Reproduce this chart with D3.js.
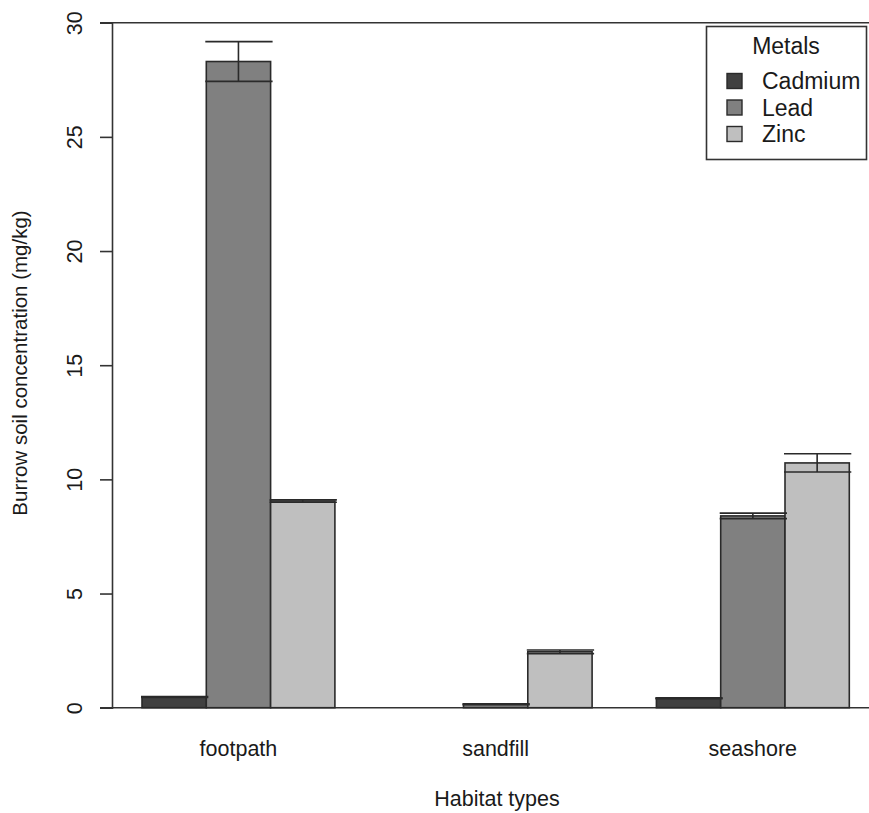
<!DOCTYPE html>
<html><head><meta charset="utf-8">
<script src="https://cdn.jsdelivr.net/npm/d3@7"></script>
<style>body{margin:0;background:#fff}svg{display:block}text{font-family:"Liberation Sans",Arial,sans-serif;fill:#1a1a1a}</style>
</head><body><svg id="c" width="869" height="813"></svg>
<script>
const habitats = ["footpath", "sandfill", "seashore"];
const metals = ["Cadmium", "Lead", "Zinc"];
const colors = ["#404040", "#808080", "#bfbfbf"];
const cadmium = [0.47, 0.0, 0.41];
const lead = [28.3, 0.15, 8.4];
const zinc = [9.05, 2.45, 10.72];
const cadmiumErr = [0.02, 0.0, 0.02];
const leadErr = [0.87, 0.02, 0.12];
const zincErr = [0.05, 0.08, 0.4];
const yTicks = [0, 5, 10, 15, 20, 25, 30];

const values = [cadmium, lead, zinc];
const errs = [cadmiumErr, leadErr, zincErr];
const data = [];
habitats.forEach((h, i) => metals.forEach((m, j) => data.push({h, m, j, v: values[j][i], e: errs[j][i]})));

const svg = d3.select("#c");
const y = d3.scaleLinear().domain([0, 30]).range([707.7, 22.7]);
const x0 = d3.scaleBand().domain(habitats).range([142, 849.3]).paddingInner(0.25).paddingOuter(0);
const x1 = d3.scaleBand().domain(metals).range([0, x0.bandwidth()]).padding(0);
const col = d3.scaleOrdinal().domain(metals).range(colors);

// top and base lines
svg.append("line").attr("x1", 100).attr("x2", 869).attr("y1", y(30)).attr("y2", y(30)).attr("stroke", "#333").attr("stroke-width", 1.6);
svg.append("line").attr("x1", 100).attr("x2", 869).attr("y1", y(0)).attr("y2", y(0)).attr("stroke", "#333").attr("stroke-width", 1.6);

// y axis
const ax = svg.append("g").attr("transform", "translate(112,0)")
  .call(d3.axisLeft(y).tickValues(yTicks).tickSize(12).tickPadding(18).tickFormat(d3.format("d")));
ax.select(".domain").attr("stroke", "#333").attr("stroke-width", 1.6);
ax.selectAll(".tick line").attr("stroke", "#333").attr("stroke-width", 1.6);
ax.selectAll(".tick text").attr("transform", "rotate(-90)").attr("x", 0).attr("y", -30).attr("dy", 0)
  .attr("text-anchor", "middle").style("font-size", "21.5px").style("fill", "#1a1a1a");

// bars
const bw = x1.bandwidth();
svg.append("g").selectAll("rect").data(data.filter(d => d.v > 0)).join("rect")
  .attr("x", d => x0(d.h) + x1(d.m)).attr("width", bw)
  .attr("y", d => y(d.v)).attr("height", d => y(0) - y(d.v))
  .attr("fill", d => col(d.m)).attr("stroke", "#2a2a2a").attr("stroke-width", 1.6);

// error bars
const eg = svg.append("g").attr("stroke", "#2a2a2a").attr("stroke-width", 1.6);
data.filter(d => d.v > 0).forEach(d => {
  const cx = x0(d.h) + x1(d.m) + bw / 2;
  const l = x0(d.h) + x1(d.m) - 1, r = x0(d.h) + x1(d.m) + bw + 2;
  eg.append("line").attr("x1", cx).attr("x2", cx).attr("y1", y(d.v - d.e)).attr("y2", y(d.v + d.e));
  eg.append("line").attr("x1", l).attr("x2", r).attr("y1", y(d.v + d.e)).attr("y2", y(d.v + d.e));
  eg.append("line").attr("x1", l).attr("x2", r).attr("y1", y(d.v - d.e)).attr("y2", y(d.v - d.e));
});

// x labels
svg.append("g").selectAll("text").data(habitats).join("text")
  .attr("x", d => x0(d) + x0.bandwidth() / 2).attr("y", 756).attr("text-anchor", "middle")
  .style("font-size", "21.5px").text(d => d);

svg.append("text").attr("x", 497).attr("y", 806).attr("text-anchor", "middle").style("font-size", "21.5px").text("Habitat types");
svg.append("text").attr("transform", "translate(27,363) rotate(-90)").attr("text-anchor", "middle").style("font-size", "20.5px").text("Burrow soil concentration (mg/kg)");

// legend
const lg = svg.append("g");
lg.append("rect").attr("x", 706.5).attr("y", 26.5).attr("width", 160).attr("height", 133).attr("fill", "#fff").attr("stroke", "#333").attr("stroke-width", 1.6);
lg.append("text").attr("x", 786).attr("y", 54).attr("text-anchor", "middle").style("font-size", "23px").text("Metals");
const li = lg.selectAll("g.it").data(metals).join("g").attr("class", "it")
  .attr("transform", (d, i) => `translate(0,${81 + i * 26.5})`);
li.append("rect").attr("x", 727).attr("y", -7.5).attr("width", 15).attr("height", 15).attr("fill", d => col(d)).attr("stroke", "#2a2a2a").attr("stroke-width", 1.4);
li.append("text").attr("x", 762).attr("y", 8).style("font-size", "23px").text(d => d);
</script></body></html>
